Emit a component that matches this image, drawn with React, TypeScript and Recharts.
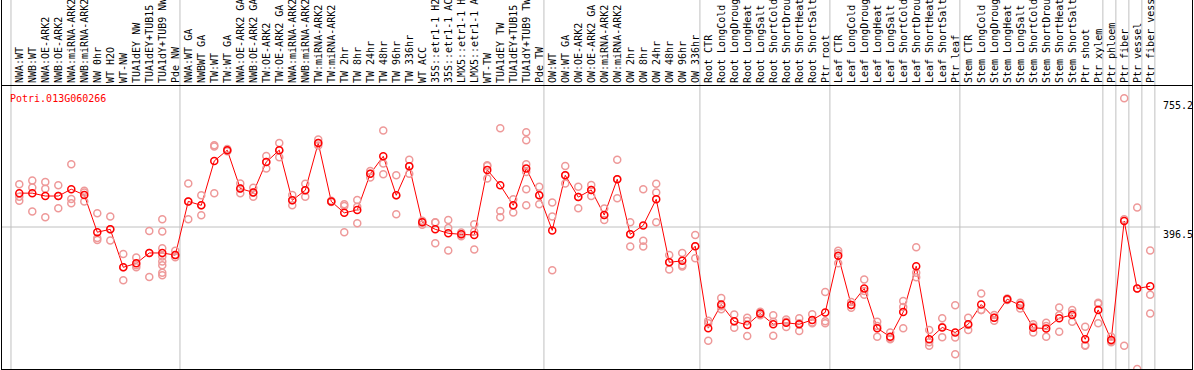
import React from 'react';
import { ComposedChart, Line, Scatter, XAxis, YAxis, ReferenceLine } from 'recharts';

const title = 'Potri.013G060266';

const categories = [
  'NWA:WT', 'NWB:WT', 'NWA:OE-ARK2', 'NWB:OE-ARK2', 'NWA:miRNA-ARK2', 'NWB:miRNA-ARK2',
  'NW 0hr', 'WT H2O', 'WT-NW', 'TUA1dEY NW', 'TUA1dEY+TUB15 NW', 'TUA1dY+TUB9 NW', 'Pde NW',
  'NWA:WT GA', 'NWBWT GA', 'TW:WT', 'TW:WT GA', 'NWA:OE-ARK2 GA', 'NWB:OE-ARK2 GA',
  'TW:OE-ARK2', 'TW:OE-ARK2 GA', 'NWA:miRNA-ARK2 GA', 'NWB:miRNA-ARK2 GA', 'TW:miRNA-ARK2',
  'TW:miRNA-ARK2 GA', 'TW 2hr', 'TW 8hr', 'TW 24hr', 'TW 48hr', 'TW 96hr', 'TW 336hr',
  'WT ACC', '35S::etr1-1 H2O', '35S::etr1-1 ACC', 'LMX5::etr1-1 H2O', 'LMX5::etr1-1 ACC',
  'WT-TW', 'TUA1dEY TW', 'TUA1dEY+TUB15 TW', 'TUA1dY+TUB9 TW', 'Pde TW',
  'OW:WT', 'OW:WT GA', 'OW:OE-ARK2', 'OW:OE-ARK2 GA', 'OW:miRNA-ARK2', 'OW:miRNA-ARK2 GA',
  'OW 2hr', 'OW 8hr', 'OW 24hr', 'OW 48hr', 'OW 96hr', 'OW 336hr',
  'Root CTR', 'Root LongCold', 'Root LongDrought', 'Root LongHeat', 'Root LongSalt',
  'Root ShortCold', 'Root ShortDrought', 'Root ShortHeat', 'Root ShortSalt', 'Ptr root',
  'Leaf CTR', 'Leaf LongCold', 'Leaf LongDrought', 'Leaf LongHeat', 'Leaf LongSalt',
  'Leaf ShortCold', 'Leaf ShortDrought', 'Leaf ShortHeat', 'Leaf ShortSalt', 'Ptr leaf',
  'Stem CTR', 'Stem LongCold', 'Stem LongDrought', 'Stem LongHeat', 'Stem LongSalt',
  'Stem ShortCold', 'Stem ShortDrought', 'Stem ShortHeat', 'Stem ShortSalt', 'Ptr shoot',
  'Ptr xylem', 'Ptr phloem', 'Ptr fiber', 'Ptr vessel', 'Ptr fiber vessel',
];

const means = [
  491, 491, 483, 483, 502, 486, 382, 390, 284, 295, 324, 324, 318,
  468, 457, 581, 611, 504, 493, 578, 611, 471, 499, 631, 468, 436, 444, 545, 594, 485, 566,
  410, 390, 379, 376, 374, 556, 513, 457, 560, 485,
  387, 541, 480, 500, 430, 530, 376, 401, 474, 298, 302, 343,
  114, 180, 133, 123, 155, 125, 129, 125, 137, 158,
  316, 179, 225, 114, 90, 159, 287, 83, 116, 102,
  125, 180, 143, 195, 178, 115, 113, 142, 151, 83, 165,
  81, 413, 225, 231,
];

const replicates = [
  [516, 481, 470], [526, 507, 440], [522, 503, 424], [513, 483, 449], [572, 475, 463],
  [498, 493, 468], [435, 366, 360], [426, 390, 359], [321, 284, 248], [311, 290, 284],
  [385, 324, 257], [418, 384, 337, 314, 300, 290, 269, 262], [330, 318, 312],
  [518, 468, 418], [485, 457, 429], [625, 621, 491], [614, 611, 608], [518, 504, 491],
  [506, 493, 481], [595, 578, 560], [631, 611, 591], [486, 471, 457], [517, 499, 481],
  [641, 631, 624], [470, 468, 466], [460, 455, 382], [472, 453, 407], [553, 545, 535],
  [666, 574, 544], [541, 485, 432], [584, 566, 545], [414, 410, 403], [410, 409, 351],
  [416, 394, 331], [381, 376, 371], [404, 384, 334], [569, 567, 532], [672, 441, 424],
  [474, 457, 437], [661, 639, 572, 550, 502, 457], [509, 485, 460],
  [465, 426, 276], [567, 541, 518], [509, 480, 449], [514, 500, 483], [448, 430, 416],
  [584, 530, 477], [410, 376, 342], [502, 358, 342], [517, 493, 410], [318, 298, 278],
  [324, 290, 286], [374, 343, 309],
  [135, 128, 79], [198, 175, 167], [152, 133, 115], [143, 134, 92], [160, 155, 150],
  [150, 132, 93], [138, 132, 117], [142, 128, 106], [153, 130, 128], [215, 133, 128],
  [330, 323, 295], [187, 179, 171], [250, 218, 207], [132, 120, 90], [102, 85, 83],
  [190, 173, 114], [340, 269, 256], [109, 75, 65], [142, 117, 89], [178, 88, 41],
  [143, 123, 109], [211, 165, 165], [151, 143, 135], [197, 195, 193], [185, 180, 169],
  [125, 118, 102], [129, 120, 90], [172, 150, 104], [165, 156, 132], [118, 66, 65],
  [185, 182, 128], [90, 78, 75], [756, 418, 65], [451, 225, 0], [331, 207, 155],
];

const groupSizes = [13, 28, 12, 10, 10, 11, 1, 1, 1, 1];
const yTicks = [0, 396.5, 755.2];
const yMax = 793;

const lineData = categories.map((name, i) => ({ x: i, name, mean: means[i] }));
const repData = replicates.flatMap((reps, i) => reps.map((v) => ({ x: i, y: v })));
const boundaries = groupSizes.reduce<number[]>((acc, n) => [...acc, acc[acc.length - 1] + n], [0]);

const W = 1194;
const H = 370;
const FONT = '"DejaVu Sans Mono", monospace';
const SEP_OFFSET = 0.64;
const GRID = '#c0c0c0';

const CatTick = (props: any) => {
  const { x, payload } = props;
  const label = categories[payload.value];
  return (
    <text
      x={0}
      y={0}
      transform={`translate(${x + 3.5},83) rotate(-90)`}
      textAnchor="start"
      fontFamily={FONT}
      fontSize={10}
      fill="#000"
    >
      {label}
    </text>
  );
};

const ValTick = (props: any) => {
  const { y, payload } = props;
  return (
    <text x={1163} y={Math.min(y + 10.5, 365)} textAnchor="start" fontFamily={FONT} fontSize={10} fill="#000">
      {String(payload.value)}
    </text>
  );
};

const RepDot = (props: any) => (
  <circle cx={props.cx} cy={props.cy} r={3.5} fill="none" stroke="#ee9999" strokeWidth={1.5} />
);

const VLine = (props: any) => (
  <line x1={props.x1} x2={props.x2} y1={0} y2={Math.max(props.y1, props.y2)} stroke={GRID} strokeWidth={1} />
);

const HLine = (props: any) => (
  <line
    x1={Math.min(props.x1, props.x2)}
    x2={Math.max(props.x1, props.x2) + 5}
    y1={props.y1}
    y2={props.y2}
    stroke={GRID}
    strokeWidth={1}
  />
);

export default function App() {
  return (
    <div style={{ position: 'absolute', left: 0, top: 0, width: W, height: H, background: '#fff' }}>
      <ComposedChart
        width={W}
        height={H}
        data={lineData}
        margin={{ top: 0, right: 2, bottom: 1, left: 2 }}
      >
        <XAxis
          xAxisId={0}
          dataKey="x"
          type="number"
          orientation="top"
          domain={[-1.33, 87.37]}
          ticks={categories.map((_, i) => i)}
          interval={0}
          tick={<CatTick />}
          tickSize={0}
          tickMargin={2}
          axisLine={false}
          tickLine={false}
          height={85}
          allowDataOverflow
        />
        <YAxis
          yAxisId={0}
          orientation="right"
          type="number"
          domain={[0, yMax]}
          ticks={yTicks}
          tick={<ValTick />}
          tickSize={0}
          tickMargin={8}
          axisLine={false}
          tickLine={false}
          width={37}
          allowDataOverflow
        />
        {boundaries.map((k) => (
          <ReferenceLine key={`b${k}`} x={k - SEP_OFFSET} stroke={GRID} shape={<VLine />} ifOverflow="extendDomain" />
        ))}
        <ReferenceLine y={yTicks[1]} stroke={GRID} shape={<HLine />} />
        <Scatter data={repData} dataKey="y" shape={<RepDot />} isAnimationActive={false} />
        <Line
          type="linear"
          dataKey="mean"
          stroke="#ff0000"
          strokeWidth={1}
          dot={{ r: 3.5, stroke: '#ff0000', strokeWidth: 1.5, fill: 'none' }}
          activeDot={false}
          isAnimationActive={false}
        />
      </ComposedChart>
      <svg
        width={W}
        height={H}
        style={{ position: 'absolute', left: 0, top: 0, pointerEvents: 'none' }}
      >
        <line x1={1.5} y1={0} x2={1.5} y2={369.5} stroke="#000" strokeWidth={1} />
        <line x1={1192.5} y1={0} x2={1192.5} y2={369.5} stroke="#000" strokeWidth={1} />
        <line x1={1} y1={85.5} x2={1193} y2={85.5} stroke="#000" strokeWidth={1} />
        <line x1={1} y1={369.5} x2={1193} y2={369.5} stroke="#000" strokeWidth={1} />
        <text x={10} y={102} fontFamily={FONT} fontSize={10} fill="#ff0000">
          {title}
        </text>
      </svg>
    </div>
  );
}
